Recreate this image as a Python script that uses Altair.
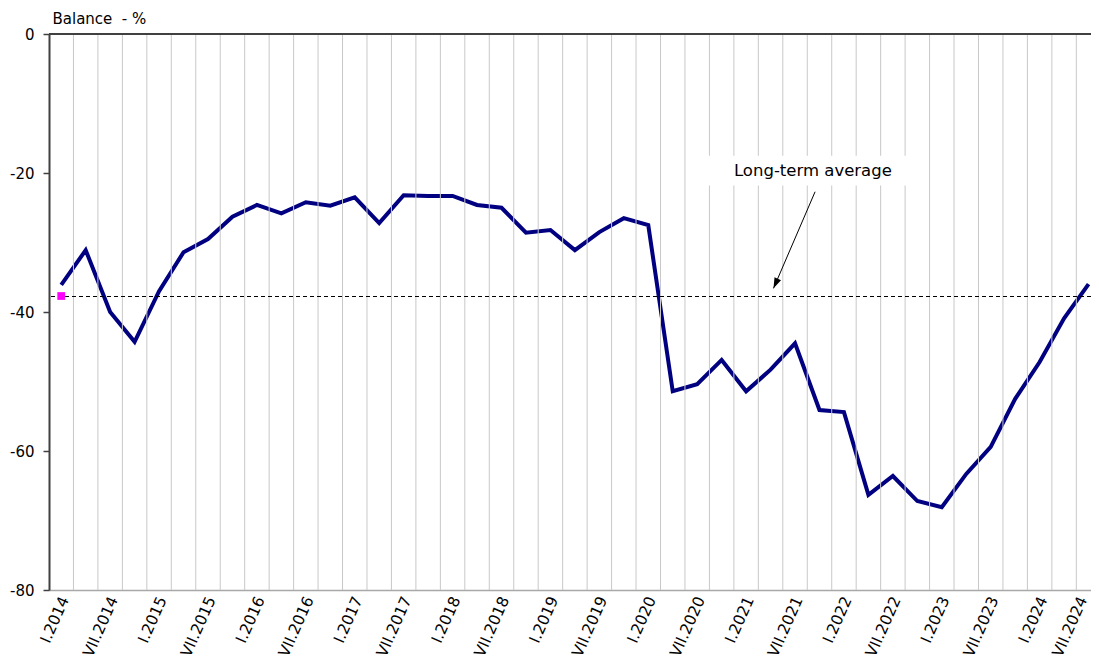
import json
import altair as alt
import pandas as pd

# ---- data -------------------------------------------------------------
years = list(range(2014, 2025))
quarters = ["I", "IV", "VII", "X"]
periods = [f"{q}.{y}" for y in years for q in quarters][:43]  # I.2014 .. VII.2024

balance = [-36.1, -31.1, -40.0, -44.3, -37.0, -31.4, -29.5, -26.3, -24.6, -25.8,
           -24.2, -24.7, -23.5, -27.2, -23.2, -23.3, -23.3, -24.6, -25.0, -28.6,
           -28.2, -31.1, -28.5, -26.5, -27.5, -51.4, -50.4, -46.9, -51.4, -48.3,
           -44.5, -54.1, -54.4, -66.3, -63.6, -67.2, -68.1, -63.3, -59.4, -52.5,
           -47.2, -40.9, -36.0]

tick_labels = periods[::2]          # I.2014, VII.2014, ... VII.2024
long_term_avg = -37.7
y_ticks = [-80, -60, -40, -20, 0]

annot_text = "Long-term average"
annot_pos = {"x": 30.73, "y": -19.7}
annot_box = {"x": 26.36, "x2": 34.7, "y": -17.5, "y2": -21.8}
arrow = {"x": 30.82, "y": -22.7, "x2": 29.12, "y2": -36.6}

# ---- tables -----------------------------------------------------------
df = pd.DataFrame({"x": list(range(len(periods))), "y": balance, "period": periods})
grid_df = pd.DataFrame({"x": [i + 0.5 for i in range(len(periods) - 1)]})
avg_df = pd.DataFrame({"x": [0], "y": [long_term_avg]})
box_df = pd.DataFrame([annot_box])
txt_df = pd.DataFrame([{**annot_pos, "t": annot_text}])
arrow_df = pd.DataFrame([arrow])
head_df = pd.DataFrame([{"x": arrow["x2"], "y": arrow["y2"]}])

FONT = "DejaVu Sans"
label_expr = json.dumps(tick_labels) + "[round(datum.value / 2)]"
last_tick = len(periods) - 1

xscale = alt.Scale(domain=[-0.5, 42.1], nice=False, zero=False)
yscale = alt.Scale(domain=[-80, 0], nice=False)

x_main = alt.X(
    "x:Q", scale=xscale, title=None,
    axis=alt.Axis(values=list(range(0, len(periods), 2)), labelExpr=label_expr,
                  grid=False, ticks=False, labelAngle=-66, labelAlign="right",
                  labelBaseline="middle", labelPadding=7,
                  labelOffset={"condition": {"test": f"datum.value >= {last_tick}",
                                             "value": -6}, "value": 3},
                  labelFontSize=15.5, labelColor="#000000", labelFont=FONT,
                  domainColor="#a8a8a8", domainWidth=1.5, labelOverlap=False),
)
y_main = alt.Y(
    "y:Q", scale=yscale, title="Balance \u00a0- %",
    axis=alt.Axis(values=y_ticks, grid=False, tickSize=6, tickColor="#404040",
                  tickWidth=1.5, domainColor="#404040", domainWidth=2,
                  labelExpr="'' + datum.value",
                  labelPadding=9, labelFontSize=15, labelColor="#000000",
                  labelFont=FONT, titleAngle=0, titleAlign="left",
                  titleBaseline="alphabetic", titleX=3, titleY=-11,
                  titleFontSize=15, titleFontWeight="normal", titleFont=FONT,
                  titleColor="#000000"),
)

grid = alt.Chart(grid_df).mark_rule(color="#c8c8c8", strokeWidth=1).encode(
    x=alt.X("x:Q", scale=xscale)
)
zero_line = alt.Chart(pd.DataFrame({"y": [0]})).mark_rule(
    color="#404040", strokeWidth=2).encode(y=alt.Y("y:Q", scale=yscale))
avg_line = alt.Chart(avg_df).mark_rule(
    color="#000000", strokeWidth=1, strokeDash=[4, 3], yOffset=0.5).encode(
    y=alt.Y("y:Q", scale=yscale))
box = alt.Chart(box_df).mark_rect(color="white").encode(
    x="x:Q", x2="x2:Q", y="y:Q", y2="y2:Q")
txt = alt.Chart(txt_df).mark_text(font=FONT, fontSize=16.5, color="#000000",
                                  align="center", baseline="middle").encode(
    x="x:Q", y="y:Q", text="t:N")
arrow_line = alt.Chart(arrow_df).mark_rule(color="#000000", strokeWidth=1).encode(
    x="x:Q", y="y:Q", x2="x2:Q", y2="y2:Q")
arrow_head = alt.Chart(head_df).mark_point(
    shape="M0,0 L-0.34,-1 L0.34,-1 Z", size=440, filled=True, color="#000000",
    opacity=1, angle=24, strokeWidth=0).encode(x="x:Q", y="y:Q")
line = alt.Chart(df).mark_line(color="#000080", strokeWidth=4).encode(
    x=x_main, y=y_main)
marker = alt.Chart(avg_df).mark_point(
    shape="square", size=60, filled=True, color="#ff00ff", opacity=1,
    strokeWidth=0).encode(x="x:Q", y="y:Q")

chart = alt.layer(
    line, grid, zero_line, box, txt, arrow_line, arrow_head, avg_line, marker
).properties(
    width=1042, height=556,
    autosize=alt.AutoSizeParams(type="none"),
    padding={"left": 41, "top": 26, "right": 0, "bottom": 80},
).configure_view(stroke=None).configure(font=FONT)

chart.save("out.html", embed_options={"renderer": "svg", "actions": False})
